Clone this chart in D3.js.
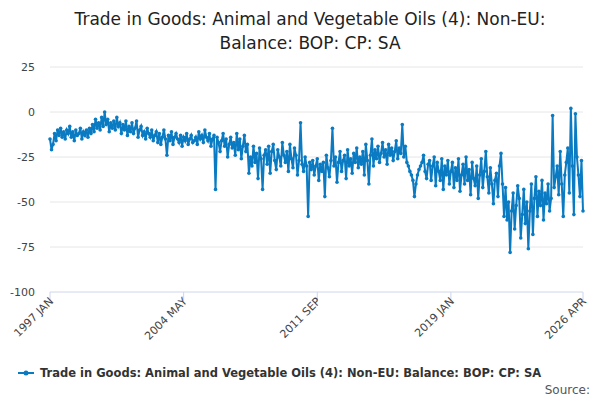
<!DOCTYPE html>
<html><head><meta charset="utf-8">
<script src="https://cdn.jsdelivr.net/npm/d3@7"></script>
<style>body{margin:0;background:#fff;font-family:"DejaVu Sans",sans-serif}</style>
</head><body>
<script>
// monthly values, 1997 JAN .. 2026 APR
var values = [].concat(
  [-15,-21,-18,-12,-16,-10,-13,-9,-14,-11,-15,-10],
  [-12,-8,-14,-11,-16,-10,-13,-12,-9,-15,-11,-13],
  [-10,-14,-9,-12,-7,-11,-4,-9,-6,-10,-3,-8],
  [0,-7,-4,-11,-6,-9,-5,-10,-3,-8,-6,-12],
  [-7,-10,-5,-13,-8,-11,-6,-12,-9,-5,-14,-10],
  [-8,-13,-11,-15,-9,-12,-14,-10,-16,-13,-11,-17],
  [-12,-18,-14,-10,-15,-24,-13,-16,-11,-18,-14,-12],
  [-15,-17,-13,-19,-14,-16,-12,-18,-15,-13,-17,-16],
  [-14,-18,-11,-15,-13,-17,-10,-14,-16,-12,-19,-15],
  [-13,-43,-14,-17,-22,-16,-12,-19,-15,-25,-18,-14],
  [-20,-17,-24,-12,-21,-15,-26,-19,-13,-22,-18,-34],
  [-25,-30,-19,-28,-23,-37,-20,-26,-43,-24,-21,-29],
  [-19,-34,-22,-18,-27,-32,-21,-25,-30,-17,-24,-28],
  [-22,-33,-18,-26,-31,-20,-24,-35,-27,-6,-29,-33],
  [-25,-30,-58,-28,-32,-27,-35,-30,-26,-38,-29,-33],
  [-28,-47,-24,-31,-36,-27,-9,-30,-25,-39,-28,-22],
  [-33,-27,-24,-37,-21,-30,-26,-34,-23,-28,-20,-31],
  [-25,-29,-22,-35,-18,-27,-40,-24,-15,-30,-21,-26],
  [-19,-28,-23,-17,-25,-21,-29,-18,-24,-20,-27,-22],
  [-16,-26,-20,-23,-7,-25,-19,-28,-30,-33,-35,-38],
  [-47,-40,-35,-32,-30,-28,-24,-33,-37,-29,-27,-38],
  [-30,-25,-41,-28,-33,-38,-26,-43,-30,-35,-27,-40],
  [-33,-28,-42,-31,-38,-26,-44,-35,-29,-40,-25,-38],
  [-32,-46,-28,-37,-41,-30,-48,-35,-26,-42,-33,-22],
  [-36,-45,-31,-40,-51,-38,-34,-47,-30,-23,-40,-58],
  [-42,-60,-50,-78,-55,-45,-65,-52,-41,-48,-70,-57],
  [-43,-62,-50,-76,-55,-40,-68,-48,-36,-58,-44,-52],
  [-38,-60,-45,-51,-40,-55,-48,-2,-42,-36,-30,-46],
  [-22,-40,-58,-35,-28,-20,-45,2,-30,-57,-1,-25],
  [-35,-47,-27,-55]
);
var months = ["JAN","FEB","MAR","APR","MAY","JUN","JUL","AUG","SEP","OCT","NOV","DEC"];
var tickIdx = [0, 88, 176, 264, 351];
var yTicks = [25, 0, -25, -50, -75, -100];
var title = ["Trade in Goods: Animal and Vegetable Oils (4): Non-EU:", "Balance: BOP: CP: SA"];
var seriesName = "Trade in Goods: Animal and Vegetable Oils (4): Non-EU: Balance: BOP: CP: SA";
var color = "#0a7bc2";

function label(i){ return (1997 + Math.floor(i/12)) + " " + months[i%12]; }

var svg = d3.select("body").append("svg").attr("width", 600).attr("height", 400);

var x = d3.scaleLinear().domain([0, values.length-1]).range([50, 583]);
var y = d3.scaleLinear().domain([-100, 25]).range([292, 67]);

svg.append("g").selectAll("text").data(title).enter().append("text")
  .attr("x", 310).attr("y", function(d,i){ return 25 + i*24; })
  .attr("text-anchor", "middle").attr("font-size", 17).attr("fill", "#222")
  .text(String);

// grid + y labels
svg.append("g").selectAll("line").data(yTicks).enter().append("line")
  .attr("x1", 50).attr("x2", 583)
  .attr("y1", function(d){ return y(d); }).attr("y2", function(d){ return y(d); })
  .attr("stroke", function(d){ return d === -100 ? "#ccd6eb" : "#e6e6e6"; });
svg.append("g").selectAll("text").data(yTicks).enter().append("text")
  .attr("x", 35).attr("y", function(d){ return y(d) + 4; })
  .attr("text-anchor", "end").attr("font-size", 11).attr("fill", "#444")
  .text(String);

// x axis
var xa = svg.append("g");
xa.selectAll("line").data(tickIdx).enter().append("line")
  .attr("x1", function(d){ return x(d); }).attr("x2", function(d){ return x(d); })
  .attr("y1", 292).attr("y2", 302).attr("stroke", "#ccd6eb");
xa.selectAll("text").data(tickIdx).enter().append("text")
  .attr("transform", function(d){ return "translate(" + (x(d)+4) + ",302) rotate(-45)"; })
  .attr("text-anchor", "end").attr("font-size", 11).attr("fill", "#444")
  .text(label);

var line = d3.line().x(function(d,i){ return x(i); }).y(function(d){ return y(d); });
svg.append("path").datum(values).attr("d", line)
  .attr("fill", "none").attr("stroke", color).attr("stroke-width", 2);
svg.append("g").selectAll("circle").data(values).enter().append("circle")
  .attr("cx", function(d,i){ return x(i); }).attr("cy", function(d){ return y(d); })
  .attr("r", 1.8).attr("fill", color);

// legend
svg.append("line").attr("x1", 18).attr("x2", 34).attr("y1", 373).attr("y2", 373)
  .attr("stroke", color).attr("stroke-width", 2);
svg.append("circle").attr("cx", 26).attr("cy", 373).attr("r", 2.5).attr("fill", color);
svg.append("text").attr("x", 40).attr("y", 377).attr("font-size", 11.5).attr("font-weight", "bold")
  .attr("fill", "#333").text(seriesName);
svg.append("text").attr("x", 590).attr("y", 394).attr("text-anchor", "end")
  .attr("font-size", 12).attr("fill", "#555").text("Source:");
</script>
</body></html>
